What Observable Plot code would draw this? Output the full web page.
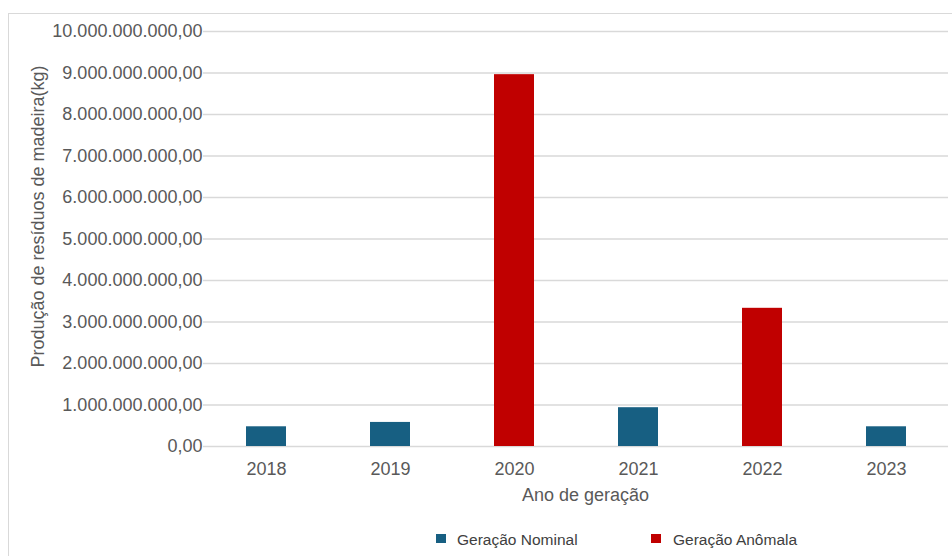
<!DOCTYPE html>
<html>
<head>
<meta charset="utf-8">
<script src="https://cdn.jsdelivr.net/npm/d3@7"></script>
<script src="https://cdn.jsdelivr.net/npm/@observablehq/plot@0.6"></script>
<style>
  html, body { margin: 0; padding: 0; background: #fff; }
  body { width: 952px; height: 556px; position: relative; overflow: hidden; font-family: "Liberation Sans", Arial, sans-serif; color: #595959; }
  #frame { position: absolute; left: 8px; top: 13px; width: 980px; height: 620px; border: 1px solid #d9d9d9; box-sizing: border-box; }
  #chart { position: absolute; left: 0; top: 0; }
  .leg { position: absolute; font-size: 15.5px; line-height: 1; color: #404040; white-space: nowrap; }
  .sw { position: absolute; width: 10px; height: 9px; }
</style>
</head>
<body>
<div id="frame"></div>
<div id="chart"></div>
<div class="sw" style="left:436px; top:534px; background:#175f82"></div>
<div class="leg" style="left:457px; top:532px;">Geração Nominal</div>
<div class="sw" style="left:651px; top:534px; background:#c00000"></div>
<div class="leg" style="left:673px; top:532px;">Geração Anômala</div>
<script>
const years = ["2018", "2019", "2020", "2021", "2022", "2023"];
const values = [0.475e9, 0.58e9, 8.96e9, 0.935e9, 3.33e9, 0.475e9];
const types = ["Geração Nominal", "Geração Nominal", "Geração Anômala", "Geração Nominal", "Geração Anômala", "Geração Nominal"];
const yTicks = [0, 1e9, 2e9, 3e9, 4e9, 5e9, 6e9, 7e9, 8e9, 9e9, 10e9];
const seriesNames = ["Geração Nominal", "Geração Anômala"];
const seriesColors = ["#175f82", "#c00000"];

const data = years.map((y, i) => ({year: y, value: values[i], type: types[i]}));
const ptBR = d3.formatLocale({decimal: ",", thousands: ".", grouping: [3], currency: ["R$", ""]});
const fmt = ptBR.format(",.2f");

const chart = Plot.plot({
  width: 952,
  height: 556,
  marginLeft: 203,
  marginRight: 4,
  marginTop: 31,
  marginBottom: 110,
  style: {fontFamily: "'Liberation Sans', Arial, sans-serif", fontSize: "18px", color: "#595959", background: "transparent"},
  x: {domain: years, paddingInner: 0.68, paddingOuter: 0.34, label: null},
  y: {domain: [0, 10e9], label: null},
  color: {domain: seriesNames, range: seriesColors},
  marks: [
    Plot.gridY(yTicks, {stroke: "#d9d9d9", strokeOpacity: 1, strokeWidth: 1.6}),
    Plot.barY(data, {x: "year", y: "value", fill: "type"}),
    Plot.axisY(yTicks, {tickSize: 0, tickPadding: 1, tickFormat: fmt, fontSize: 18, fill: "#595959", label: null}),
    Plot.axisX({tickSize: 0, tickPadding: 16, fontSize: 18, fill: "#595959", label: null}),
    Plot.text(["Ano de geração"], {frameAnchor: "bottom", dx: 9.5, dy: 54, lineAnchor: "bottom", fontSize: 18, fill: "#595959"}),
    Plot.text(["Produção de resíduos de madeira(kg)"], {frameAnchor: "left", dx: -160, dy: -22.5, rotate: -90, lineAnchor: "bottom", textAnchor: "middle", fontSize: 18, fill: "#595959"})
  ]
});
document.getElementById("chart").appendChild(chart);
</script>
</body>
</html>
